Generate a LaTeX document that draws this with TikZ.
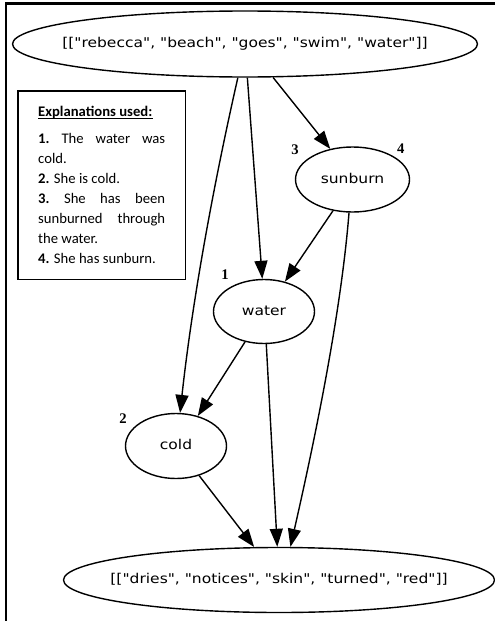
\documentclass[tikz,border=0pt]{standalone}
\usepackage{fontspec}
\setmainfont{Carlito}
\newfontfamily\gvfont[FakeStretch=1.15]{DejaVu Sans}
\newfontfamily\numfont{Liberation Serif}
\usetikzlibrary{arrows.meta,shapes.geometric}
\newcommand\gvtext[1]{\makebox[0pt]{\raisebox{-3.7pt}[0pt][0pt]{#1}}}
\begin{document}
\begin{tikzpicture}[x=1pt,y=-1pt,
  gv/.style={ellipse, draw, line width=1.4pt, inner sep=0pt,
    font=\gvfont\fontsize{13.5}{16}\selectfont},
  edge/.style={line width=1.4pt, -{Triangle[length=18pt,width=13pt]}},
  num/.style={font=\numfont\bfseries\fontsize{14.67}{16}\selectfont, inner sep=0pt},
  legtext/.style={inner sep=0pt, anchor=base west, font=\fontsize{14.67}{20}\selectfont},
]
\useasboundingbox (0,0) rectangle (495,621);
% frame
\draw[line width=2.5pt] (6,623) -- (6,3.5) -- (497,3.5);

% nodes
\node[gv, minimum width=465pt, minimum height=66pt] (top) at (245,44)
  {\gvtext{[["rebecca", "beach", "goes", "swim", "water"]]}};
\node[gv, minimum width=114pt, minimum height=65pt] (sunburn) at (352.5,179.5)
  {\gvtext{sunburn}};
\node[gv, minimum width=101pt, minimum height=64pt] (water) at (264,311.5)
  {\gvtext{water}};
\node[gv, minimum width=101pt, minimum height=65pt] (cold) at (176,446)
  {\gvtext{cold}};
\node[gv, minimum width=431pt, minimum height=65pt] (bottom) at (279,580)
  {\gvtext{[["dries", "notices", "skin", "turned", "red"]]}};

% number labels
\node[num] (n3) at (295,150) {3};
\node[num] (n4) at (400.7,148.3) {4};
\node[num] (n1) at (225,275) {1};
\node[num] (n2) at (123,419) {2};

% edges
\draw[edge] (top.-102.9) .. controls +(-25,110) and +(12,-110) .. (cold.83);
\draw[edge] (top.-86.7) -- (water.93.4);
\draw[edge] (top.-50.3) -- (sunburn.126.7);
\draw[edge] (sunburn.-122.2) -- (water.55.5);
\draw[edge] (sunburn.-96) .. controls +(-8,100) and +(25,-110) .. (bottom.71.6);
\draw[edge] (water.-122.9) -- (cold.54.6);
\draw[edge] (water.-86.7) -- (bottom.93.5);
\draw[edge] (cold.-52.3) -- (bottom.127.3);

% legend
\node[draw, line width=1.5pt, minimum width=167.5pt, minimum height=188.5pt, inner sep=0pt] (legend) at (101.5,185) {};
\node[legtext] (legtitle) at (38,116) {\textbf{Explanations used:}};
\draw[line width=1pt] ([yshift=-2.8pt]legtitle.base west) -- ([yshift=-2.8pt]legtitle.base east);
\node[legtext] (legbody) at (38,143) {\parbox[t]{127pt}{\fontsize{14.67}{20}\selectfont
\textbf{1.}\hfill The\hfill water\hfill was\\
cold.\\
\textbf{2.} She is cold.\\
\textbf{3.}\hfill She\hfill has\hfill been\\
sunburned\hfill through\\
the water.\\
\textbf{4.} She has sunburn.}};
\end{tikzpicture}
\end{document}
